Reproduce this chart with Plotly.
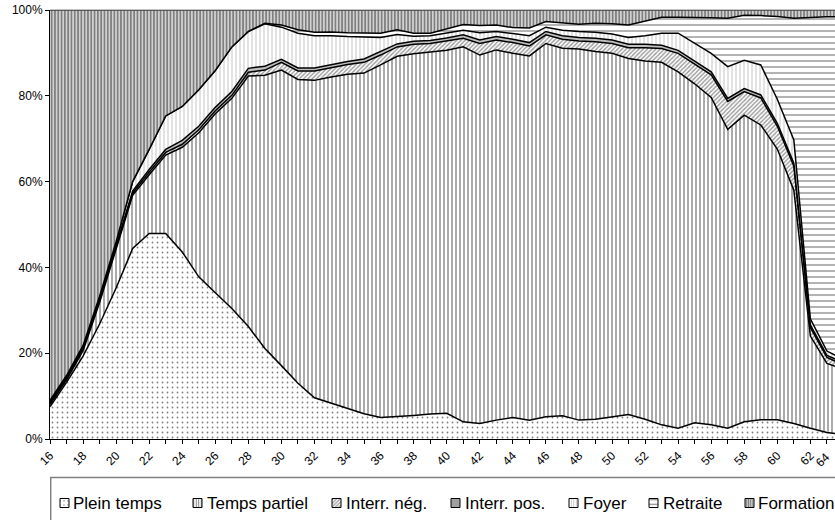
import plotly.graph_objects as go

# ---------------- data (percent of each age group) ----------------
ages = list(range(16, 65))

plein_temps = [7.5, 13.2, 19.3, 26.8, 35.2, 44.4, 47.9, 47.9, 43.6, 37.8, 34.1, 30.4, 26.2, 21.1,
               17.1, 13.0, 9.6, 8.4, 7.2, 5.9, 5.0, 5.2, 5.5, 5.8, 6.0, 4.0, 3.6, 4.4, 5.0, 4.4,
               5.2, 5.4, 4.4, 4.6, 5.2, 5.7, 4.6, 3.3, 2.5, 3.8, 3.3, 2.5, 4.0, 4.5, 4.5, 3.6,
               2.5, 1.5, 1.0]
temps_partiel = [0.5, 0.6, 1.3, 5.0, 9.1, 12.4, 13.7, 18.3, 24.4, 33.6, 41.7, 49.0, 58.4, 63.7,
                 68.9, 70.8, 74.0, 76.0, 77.8, 79.4, 82.2, 84.0, 84.3, 84.4, 84.6, 87.4, 85.9,
                 86.3, 84.9, 84.9, 87.0, 85.7, 86.5, 85.7, 84.7, 83.0, 83.5, 84.5, 83.1, 79.0,
                 76.3, 69.7, 71.5, 68.7, 63.1, 54.4, 21.5, 16.1, 15.3]
interr_neg = [0.3, 0.3, 0.4, 0.4, 0.4, 0.5, 0.6, 0.6, 0.7, 0.7, 0.7, 0.7, 0.9, 1.2, 1.8, 2.0,
              2.2, 2.2, 2.3, 2.5, 2.3, 2.2, 2.2, 2.0, 2.2, 2.0, 2.7, 2.3, 2.5, 2.3, 2.0, 2.1,
              1.9, 2.3, 2.3, 2.5, 3.1, 3.2, 4.3, 4.6, 5.3, 6.5, 5.5, 6.3, 5.3, 5.6, 2.0, 1.4, 1.0]
interr_pos = [0.3, 0.3, 0.3, 0.4, 0.4, 0.5, 0.6, 0.7, 0.9, 0.8, 0.8, 0.9, 0.9, 0.9, 0.7, 0.7,
              0.7, 0.7, 0.7, 0.8, 0.8, 0.7, 0.7, 0.7, 0.7, 0.8, 0.8, 0.8, 0.8, 0.8, 0.8, 0.8,
              0.8, 0.8, 0.8, 0.8, 0.8, 0.8, 0.7, 0.7, 0.7, 0.7, 0.7, 0.7, 0.7, 0.7, 0.6, 0.5, 0.5]
foyer = [0.4, 0.4, 0.5, 0.7, 0.9, 2.2, 4.7, 7.8, 7.9, 8.5, 8.6, 10.4, 8.6, 9.9, 7.5, 8.1, 7.5,
         6.7, 5.8, 5.1, 3.3, 2.2, 1.2, 1.1, 1.2, 1.1, 1.7, 1.2, 1.3, 1.6, 1.0, 1.3, 1.4, 1.4,
         1.4, 1.6, 2.0, 2.8, 4.0, 4.1, 4.3, 7.4, 6.6, 7.0, 5.6, 5.4, 1.4, 1.0, 0.8]
retraite = [0, 0, 0, 0, 0, 0, 0, 0, 0, 0, 0, 0, 0, 0.1, 0.5, 0.8, 0.8, 0.9, 0.9, 0.9, 1.0, 1.1,
            0.7, 0.6, 0.9, 1.3, 1.7, 1.5, 1.4, 1.8, 1.3, 1.7, 1.7, 2.1, 2.4, 2.9, 3.4, 3.7, 3.7,
            6.1, 8.3, 11.3, 10.5, 11.5, 19.3, 28.4, 70.3, 77.9, 79.9]
formation = [91.0, 85.2, 78.2, 66.7, 54.0, 40.0, 32.5, 24.7, 22.5, 18.6, 14.1, 8.6, 5.0, 3.1,
             3.5, 4.6, 5.2, 5.1, 5.3, 5.4, 5.4, 4.6, 5.4, 5.4, 4.4, 3.4, 3.6, 3.5, 4.1, 4.2,
             2.7, 3.0, 3.3, 3.1, 3.2, 3.5, 2.6, 1.7, 1.7, 1.7, 1.8, 1.9, 1.2, 1.3, 1.5, 1.9,
             1.7, 1.6, 1.5]

series_names = ["Plein temps", "Temps partiel", "Interr. nég.", "Interr. pos.",
                "Foyer", "Retraite", "Formation"]
series_values = [plein_temps, temps_partiel, interr_neg, interr_pos, foyer, retraite, formation]

y_tick_values = [0, 20, 40, 60, 80, 100]
y_tick_labels = ["0%", "20%", "40%", "60%", "80%", "100%"]
x_tick_labels = list(range(16, 65, 2))

# ---------------- styles ----------------
FONT = "Liberation Sans, Arial, sans-serif"
area_patterns = [
    dict(shape=".", fgcolor="black", bgcolor="white", size=5, solidity=0.1),
    dict(shape="|", fgcolor="black", bgcolor="white", size=4, solidity=0.33),
    dict(shape="/", fgcolor="#333333", bgcolor="white", size=3, solidity=0.45),
    dict(shape="-", fgcolor="black", bgcolor="white", size=2, solidity=0.55),
    dict(shape="|", fgcolor="#777777", bgcolor="white", size=4, solidity=0.22),
    dict(shape="-", fgcolor="black", bgcolor="white", size=6, solidity=0.2),
    dict(shape="|", fgcolor="black", bgcolor="white", size=3.3, solidity=0.68),
]
icon_patterns = [
    dict(shape=".", fgcolor="black", bgcolor="white", size=4, solidity=0.1),
    dict(shape="|", fgcolor="black", bgcolor="white", size=2.5, solidity=0.4),
    dict(shape="/", fgcolor="#333333", bgcolor="white", size=2.5, solidity=0.5),
    dict(shape="-", fgcolor="black", bgcolor="white", size=2, solidity=0.65),
    dict(shape="|", fgcolor="#777777", bgcolor="white", size=2.5, solidity=0.3),
    dict(shape="-", fgcolor="black", bgcolor="white", size=4.5, solidity=0.25),
    dict(shape="|", fgcolor="black", bgcolor="white", size=2.2, solidity=0.65),
]

# layout geometry (pixels)
W, H = 835, 520
PLOT_LEFT, PLOT_TOP, PLOT_BOTTOM = 50, 10, 439
x_range = [16, 63.49]
legend_icon_left = [60, 193, 332, 451, 569, 649, 745]
legend_text_left = [71, 205, 344, 463, 581, 661, 756]
legend_mid_y = 503
icon_size = 9

fig = go.Figure()

for i, (name, vals) in enumerate(zip(series_names, series_values)):
    fig.add_trace(go.Scatter(
        x=ages, y=vals, name=name, mode="lines",
        stackgroup="one", groupnorm="percent" if i == 0 else None,
        line=dict(color="black", width=1.5),
        fillcolor="white", fillpattern=area_patterns[i],
        showlegend=False, hoverinfo="skip",
        xaxis="x", yaxis="y",
    ))

# custom legend (icons drawn on a pixel-scaled helper axis pair)
for i, name in enumerate(series_names):
    x0 = legend_icon_left[i]
    y0 = legend_mid_y - icon_size / 2
    fig.add_trace(go.Scatter(
        x=[x0, x0 + icon_size, x0 + icon_size, x0, x0],
        y=[y0, y0, y0 + icon_size, y0 + icon_size, y0],
        mode="lines", fill="toself", fillcolor="white",
        fillpattern=icon_patterns[i],
        line=dict(color="black", width=1),
        showlegend=False, hoverinfo="skip",
        xaxis="x2", yaxis="y2",
    ))
    fig.add_annotation(
        x=legend_text_left[i], y=legend_mid_y, xref="x2", yref="y2",
        text=name, showarrow=False, xanchor="left", yanchor="middle",
        font=dict(family=FONT, size=17, color="black"),
    )

fig.add_shape(type="rect", xref="x2", yref="y2", x0=50.7, x1=860, y0=477.5, y1=540,
              line=dict(color="#808080", width=1.5), fillcolor="rgba(0,0,0,0)")

# partially visible last tick label (age 64 lies just beyond the visible area)
fig.add_annotation(
    x=(64 - x_range[0]) / (x_range[1] - x_range[0]), y=0, xref="paper", yref="y",
    text="64", showarrow=False, textangle=-45, xshift=-8, yshift=-21,
    font=dict(family=FONT, size=12, color="black"),
)

main_bottom_frac = (H - PLOT_BOTTOM) / (H - PLOT_TOP)

fig.update_layout(
    width=W, height=H,
    margin=dict(l=PLOT_LEFT, r=0, t=PLOT_TOP, b=0, pad=0, autoexpand=False),
    paper_bgcolor="white", plot_bgcolor="rgba(0,0,0,0)",
    font=dict(family=FONT, size=12, color="black"),
    showlegend=False,
    xaxis=dict(
        domain=[0, 1], anchor="y", range=x_range, automargin=False,
        tickmode="array", tickvals=x_tick_labels, ticktext=[str(v) for v in x_tick_labels],
        tickangle=-45, tickfont=dict(size=12),
        ticks="outside", ticklen=4, tickcolor="black", tickwidth=1,
        minor=dict(ticks="outside", ticklen=4, tickcolor="black", dtick=1, tick0=16, showgrid=False),
        showline=True, linecolor="black", linewidth=1,
        showgrid=False, zeroline=False,
    ),
    yaxis=dict(
        domain=[main_bottom_frac, 1], anchor="x", range=[0, 100], automargin=False,
        tickmode="array", tickvals=y_tick_values, ticktext=y_tick_labels,
        tickfont=dict(size=12),
        ticks="outside", ticklen=4, tickcolor="black", tickwidth=1,
        showline=True, linecolor="black", linewidth=1,
        showgrid=False, zeroline=False,
    ),
    xaxis2=dict(domain=[0, 1], anchor="y2", range=[PLOT_LEFT, W], visible=False,
                fixedrange=True, automargin=False),
    yaxis2=dict(domain=[0, main_bottom_frac], anchor="x2", range=[H, PLOT_BOTTOM],
                visible=False, fixedrange=True, automargin=False),
)

fig.add_shape(type="line", xref="paper", yref="paper", x0=0, x1=1, y0=1, y1=1,
              line=dict(color="#888888", width=1))

fig.write_html(
    "out.html",
    config={"displayModeBar": False, "staticPlot": True},
    post_script="document.body.style.margin='0px';document.body.style.overflow='hidden';",
)
